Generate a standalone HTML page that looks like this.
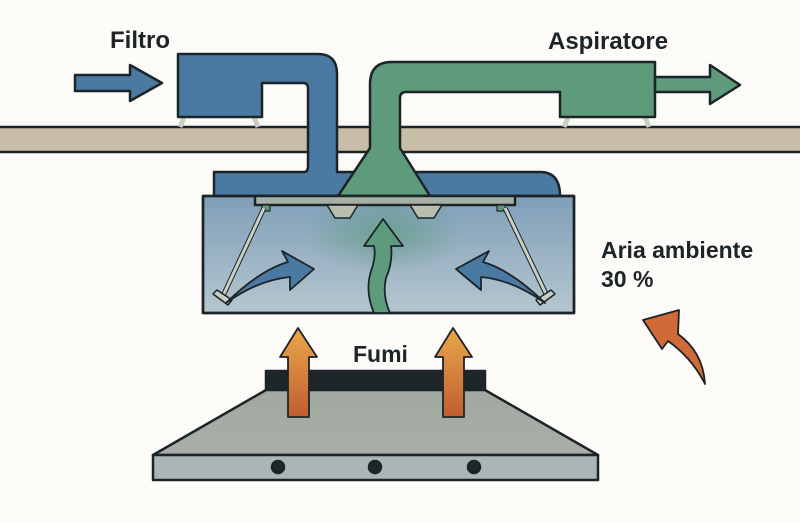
<!DOCTYPE html>
<html><head><style>body{margin:0;background:#fcfbf8}svg{display:block}</style></head><body>
<svg width="800" height="523" viewBox="0 0 800 523" xmlns="http://www.w3.org/2000/svg">
<defs>
<linearGradient id="ch" x1="0" y1="0" x2="0" y2="1"><stop offset="0" stop-color="#7f9fb8"/><stop offset="1" stop-color="#b5c6cf"/></linearGradient>
<radialGradient id="gl" cx="0.5" cy="0.3" r="0.35"><stop offset="0" stop-color="#5e9a80" stop-opacity="0.7"/><stop offset="1" stop-color="#5e9a80" stop-opacity="0"/></radialGradient>
<linearGradient id="or" x1="0" y1="0" x2="0" y2="1"><stop offset="0" stop-color="#eaa84a"/><stop offset="1" stop-color="#c05d30"/></linearGradient>
<linearGradient id="hd" x1="0" y1="0" x2="0" y2="1"><stop offset="0" stop-color="#a0a89f"/><stop offset="1" stop-color="#a8afa8"/></linearGradient>
</defs>
<g stroke="#1d2428" stroke-width="2.5" stroke-linejoin="round">
<rect x="-5" y="127" width="810" height="25" fill="#c8bda6"/>
<path d="M184 117 L180 127 M254 117 L258 127 M568 117 L564 127 M645 117 L649 127" stroke="#c8cfc3" stroke-width="5"/>
<path d="M178 54 H318 Q337 54 337 74 V172 H540 Q560 172 560 196 H214 V172 H304 Q308 172 308 166 V88 Q308 83 303 83 H262 V117 H178 Z" fill="#4a7aa2"/>
<path d="M370 148 V84 Q370 62 392 62 H655 V117 H560 V92 H406 Q400 92 400 98 V148 L430 196 H338 Z" fill="#5e9a7c"/>
<path d="M655 77 H710 V65 L740 85 L710 104 V92 H655 Z" fill="#5e9a7c"/>
<path d="M75 75 H130 V65 L162 83 L130 101 V91 H75 Z" fill="#4a7aa2"/>
<rect x="203" y="196" width="371" height="117" fill="url(#ch)"/>
<rect x="270" y="200" width="230" height="112" fill="url(#gl)" stroke="none"/>
<rect x="203" y="196" width="371" height="117" fill="none"/>
<rect x="255" y="196" width="260" height="9" fill="#a7b0a6"/>
<path d="M327 205 L335 218 H350 L358 205 Z M410 205 L418 218 H434 L442 205 Z" fill="#b9bfae" stroke-width="1.5"/>
<rect x="262" y="205" width="8" height="6" fill="#5e9a7c" stroke-width="1.2"/>
<rect x="497" y="205" width="8" height="6" fill="#5e9a7c" stroke-width="1.2"/>
<path d="M264 208 L222 298 M505 208 L548 298" stroke="#1d2428" stroke-width="5"/>
<path d="M264 208 L222 298 M505 208 L548 298" stroke="#c8cfc3" stroke-width="3"/>
<path d="M213 294 L228 305 L232 300 L217 290 Z M555 294 L540 305 L536 300 L551 290 Z" fill="#c8cfc3" stroke-width="1.5"/>
<path d="M226 303 Q260 270 288 262 L282 251 L314 269 L290 290 L290 277 Q258 280 226 303 Z" fill="#4a7aa2" stroke-width="1.8"/>
<path d="M545 303 Q511 270 483 262 L489 251 L456 269 L481 290 L481 277 Q513 280 545 303 Z" fill="#4a7aa2" stroke-width="1.8"/>
<path d="M374 313 Q364 290 372 268 Q376 256 374 246 H364 L383 219 L403 246 H391 Q393 262 386 278 Q382 295 390 313 Z" fill="#5e9a7c" stroke-width="1.8"/>
<rect x="266" y="371" width="219" height="20" fill="#1e2629"/>
<path d="M266 390 H485 L598 455 H153 Z" fill="url(#hd)"/>
<rect x="153" y="455" width="445" height="25" fill="#a9b6b5"/>
<circle cx="278" cy="467" r="6" fill="#1e2629"/>
<circle cx="375" cy="467" r="6" fill="#1e2629"/>
<circle cx="474" cy="467" r="6" fill="#1e2629"/>
<path d="M288 417 V357 H280 L298 328 L317 357 H309 V417 Z" fill="url(#or)" stroke-width="1.8"/>
<path d="M443 417 V357 H435 L453 328 L472 357 H464 V417 Z" fill="url(#or)" stroke-width="1.8"/>
<path d="M705 384 Q703 352 678 334 L679 310 L643 320 L662 349 L668 341 Q692 358 705 384 Z" fill="#d06a38" stroke-width="1.8"/>
</g>
<g font-family="Liberation Sans, sans-serif" font-weight="bold" fill="#1d2428">
<text x="110" y="48" font-size="24">Filtro</text>
<text x="548" y="49" font-size="24">Aspiratore</text>
<text x="601" y="258" font-size="23">Aria ambiente</text>
<text x="601" y="287" font-size="23">30 %</text>
<text x="353" y="362" font-size="23">Fumi</text>
</g>
</svg>
</body></html>
